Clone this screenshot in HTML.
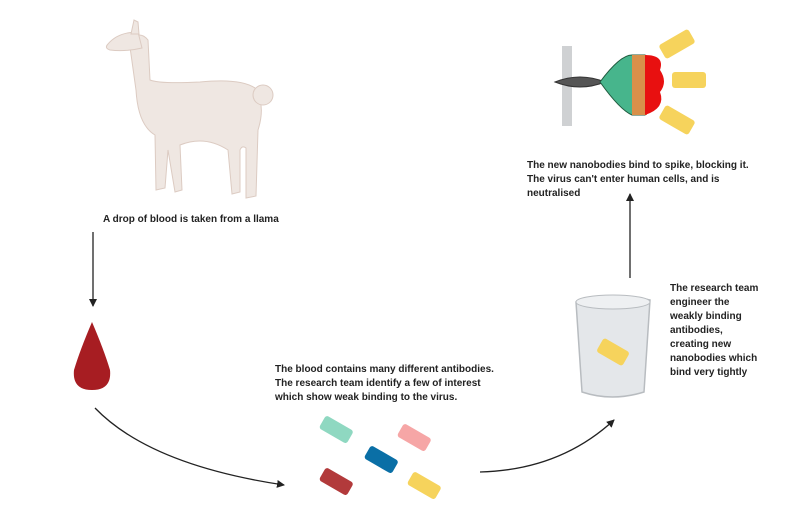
<!DOCTYPE html>
<html><head><meta charset="utf-8"><style>
body{margin:0;background:#fff;}
svg{display:block;font-family:"Liberation Sans",sans-serif;font-weight:bold;font-size:10px;fill:#222;}
</style></head><body>
<svg width="800" height="518" viewBox="0 0 800 518">
<defs>
<marker id="ah" markerWidth="8" markerHeight="8" refX="7" refY="4" orient="auto" markerUnits="userSpaceOnUse"><path d="M0,0 L8,4 L0,8 Z" fill="#222"/></marker>
</defs>
<!-- llama -->
<g fill="#efe7e2" stroke="#dccbc2" stroke-width="1">
<path d="M129,40 Q140,30 148,40 L150,80 Q160,84 200,82 Q240,78 255,88 Q266,105 258,130 L256,196 L246,198 L246,148 Q242,145 240,150 L240,192 L232,194 L228,150 Q205,135 180,145 L182,190 L175,192 L168,150 L165,188 L156,190 L155,135 Q138,125 136,90 Z"/>
<path d="M108,44 Q118,32 138,32 L142,48 Q125,52 110,50 Q104,48 108,44 Z"/>
<path d="M131,34 L134,20 L138,22 L139,34 Z"/>
<circle cx="263" cy="95" r="10"/>
</g>
<text x="103" y="222">A drop of blood is taken from a llama</text>
<line x1="93" y1="232" x2="93" y2="306" stroke="#222" stroke-width="1.3" marker-end="url(#ah)"/>
<!-- drop -->
<path d="M92,322 Q80,350 74,370 Q72,390 92,390 Q112,390 110,370 Q104,350 92,322 Z" fill="#a71d22"/>
<path d="M95,408 Q150,465 284,485" fill="none" stroke="#222" stroke-width="1.3" marker-end="url(#ah)"/>
<text x="275" y="372">The blood contains many different antibodies.</text>
<text x="275" y="386">The research team identify a few of interest</text>
<text x="275" y="400">which show weak binding to the virus.</text>
<!-- antibodies -->
<g>
<rect x="320" y="422" width="32" height="15" rx="3" fill="#8fd8c1" transform="rotate(30 336 430)"/>
<rect x="398" y="430" width="32" height="15" rx="3" fill="#f6a6a6" transform="rotate(30 414 438)"/>
<rect x="365" y="452" width="32" height="15" rx="3" fill="#0a6fa6" transform="rotate(30 381 460)"/>
<rect x="320" y="474" width="32" height="15" rx="3" fill="#b23a3b" transform="rotate(30 336 482)"/>
<rect x="408" y="478" width="32" height="15" rx="3" fill="#f6d35c" transform="rotate(30 424 486)"/>
</g>
<path d="M480,472 Q560,470 614,420" fill="none" stroke="#222" stroke-width="1.3" marker-end="url(#ah)"/>
<!-- beaker -->
<path d="M576,302 Q612,292 650,300 L644,392 Q612,402 582,392 Z" fill="#e4e7ea" stroke="#b8bcc0" stroke-width="1.5"/>
<ellipse cx="613" cy="302" rx="37" ry="7" fill="#eef0f2" stroke="#b8bcc0"/>
<rect x="598" y="344" width="30" height="16" rx="3" fill="#f6d35c" transform="rotate(30 613 352)"/>
<g font-size="10">
<text x="670" y="291">The research team</text>
<text x="670" y="305">engineer the</text>
<text x="670" y="319">weakly binding</text>
<text x="670" y="333">antibodies,</text>
<text x="670" y="347">creating new</text>
<text x="670" y="361">nanobodies which</text>
<text x="670" y="375">bind very tightly</text>
</g>
<line x1="630" y1="278" x2="630" y2="194" stroke="#222" stroke-width="1.3" marker-end="url(#ah)"/>
<text x="527" y="168">The new nanobodies bind to spike, blocking it.</text>
<text x="527" y="182">The virus can't enter human cells, and is</text>
<text x="527" y="196">neutralised</text>
<!-- spike -->
<rect x="562" y="46" width="10" height="80" fill="#cfd1d3"/>
<path d="M555,82 Q580,72 605,82 Q580,92 555,82 Z" fill="#555" stroke="#333"/>
<path d="M600,82 Q620,55 632,55 L645,55 L645,115 L632,115 Q620,110 600,82 Z" fill="#47b58c" stroke="#1f5a3e"/>
<rect x="632" y="55" width="15" height="60" fill="#d8904a"/>
<path d="M645,55 Q665,55 660,70 Q668,82 660,92 Q666,108 645,115 Z" fill="#e81010"/>
<rect x="660" y="36" width="34" height="16" rx="3" fill="#f6d35c" transform="rotate(-30 677 44)"/>
<rect x="672" y="72" width="34" height="16" rx="3" fill="#f6d35c"/>
<rect x="660" y="112" width="34" height="16" rx="3" fill="#f6d35c" transform="rotate(30 677 120)"/>
</svg>
</body></html>
